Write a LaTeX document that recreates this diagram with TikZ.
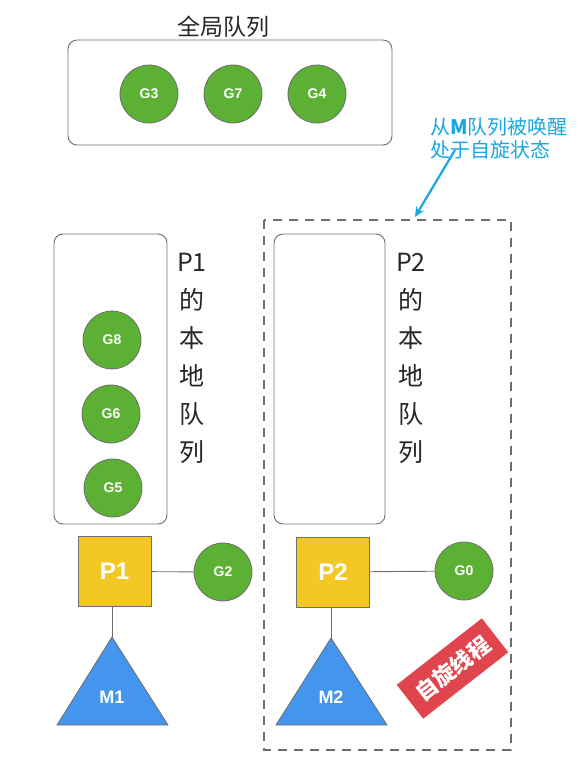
\documentclass[tikz,border=0pt]{standalone}
\usepackage{fontspec}
\setmainfont{Liberation Sans}
\newfontfamily\cjk{Noto Sans CJK SC}
\usetikzlibrary{shapes.geometric,arrows.meta}
\definecolor{gfill}{HTML}{5CB135}
\definecolor{pfill}{HTML}{F4C824}
\definecolor{mfill}{HTML}{4495EE}
\definecolor{redl}{HTML}{E0444C}
\definecolor{cyanc}{HTML}{1AA6E2}
\definecolor{edge}{HTML}{6E6E6E}
\tikzset{
  gnode/.style={circle, fill=gfill, draw=edge, line width=0.8pt, minimum size=58pt, inner sep=0pt, text=white, font=\bfseries\fontsize{14}{16}\selectfont},
  pnode/.style={rectangle, fill=pfill, draw=edge, line width=0.8pt, minimum width=73pt, minimum height=70pt, inner sep=0pt, text=white, font=\bfseries\fontsize{24}{28}\selectfont},
  qbox/.style={draw=edge, line width=0.9pt, rounded corners=9pt},
  conn/.style={draw=edge, line width=0.9pt},
  tri/.style={fill=mfill, draw=edge, line width=0.8pt},
  mlabel/.style={text=white, font=\bfseries\fontsize{18}{20}\selectfont},
  vtext/.style={align=center, font=\cjk\fontsize{25}{38}\selectfont, text=black!85},
}
\begin{document}
\begin{tikzpicture}[x=1pt,y=-1pt]
\useasboundingbox (0,0) rectangle (582,766);
% global queue
\node[font=\cjk\fontsize{23}{26}\selectfont, text=black!85] (gtitle) at (223,27) {全局队列};
\draw[qbox] (68,40) rectangle (392,145);
\node[gnode] (g3) at (149,94) {G3};
\node[gnode] (g7) at (233,94) {G7};
\node[gnode] (g4) at (317,94) {G4};
% P1 local queue
\draw[qbox] (54,234) rectangle (167,524);
\node[gnode] (g8) at (112,340) {G8};
\node[gnode] (g6) at (111,414) {G6};
\node[gnode] (g5) at (113,488) {G5};
\node[vtext] (p1t) at (192,358) {P1\\的\\本\\地\\队\\列};
% P2 dashed region
\draw[edge, line width=1.3pt, dash pattern=on 9pt off 7pt] (264,220) rectangle (511,750);
\draw[qbox] (274,234) rectangle (385,524);
\node[vtext] (p2t) at (411,358) {P2\\的\\本\\地\\队\\列};
% P1 / M1 / G2
\node[pnode] (p1) at (114.5,571.5) {P1};
\node[gnode] (g2) at (223,572) {G2};
\draw[conn] (p1) -- (g2);
\coordinate (m1top) at (112,637);
\draw[tri] (m1top) -- (168,725) -- (57,725) -- cycle;
\node[mlabel] (m1) at (112,697) {M1};
\draw[conn] (p1.south -| m1top) -- (m1top);
% P2 / M2 / G0
\node[pnode] (p2) at (333,572) {P2};
\node[gnode] (g0) at (464,571) {G0};
\draw[conn] (p2) -- (g0);
\coordinate (m2top) at (331,638);
\draw[tri] (m2top) -- (387,725) -- (276,725) -- cycle;
\node[mlabel] (m2) at (331,697) {M2};
\draw[conn] (p2.south -| m2top) -- (m2top);
% red label
\node[fill=redl, text=white, rotate=38, minimum width=108pt, minimum height=43pt, inner sep=0pt, font=\cjk\bfseries\fontsize{22}{24}\selectfont] (spin) at (452.5,668.5) {自旋线程};
% annotation
\node[anchor=west, align=left, text=cyanc, inner sep=0pt, font=\cjk\fontsize{20}{23}\selectfont] (note) at (430,138.5) {从\textbf{M}队列被唤醒\\处于自旋状态};
\coordinate (arrs) at (455,150);
\coordinate (arre) at (415,217);
\draw[cyanc, line width=2.2pt, -{Stealth[length=10pt,width=9pt]}] (arrs) -- (arre);
\end{tikzpicture}
\end{document}
